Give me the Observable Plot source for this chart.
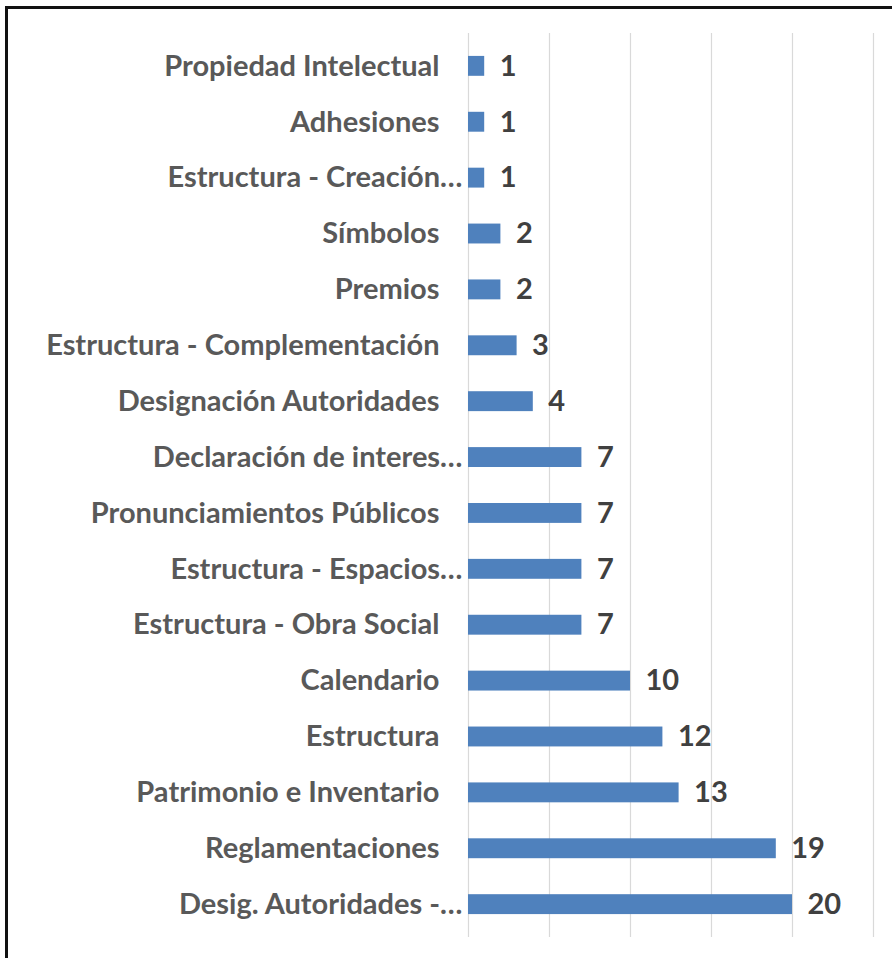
<!DOCTYPE html>
<html>
<head>
<meta charset="utf-8">
<script src="https://cdn.jsdelivr.net/npm/d3@7"></script>
<script src="https://cdn.jsdelivr.net/npm/@observablehq/plot@0.6"></script>
<style>
  html, body { margin: 0; padding: 0; background: #fff; overflow: hidden; }
  #wrap { position: relative; width: 892px; height: 958px; overflow: hidden; }
  #topline { position: absolute; left: 5px; top: 6px; width: 887px; height: 3px; background: #111; }
  #leftline { position: absolute; left: 5px; top: 6px; width: 3px; height: 952px; background: #111; }
  #chart { position: absolute; left: 0; top: 0; }
</style>
</head>
<body>
<div id="wrap">
  <div id="chart"></div>
  <div id="topline"></div>
  <div id="leftline"></div>
</div>
<script>
const categories = [
  "Propiedad Intelectual",
  "Adhesiones",
  "Estructura - Creación…",
  "Símbolos",
  "Premios",
  "Estructura - Complementación",
  "Designación Autoridades",
  "Declaración de interes…",
  "Pronunciamientos Públicos",
  "Estructura - Espacios…",
  "Estructura - Obra Social",
  "Calendario",
  "Estructura",
  "Patrimonio e Inventario",
  "Reglamentaciones",
  "Desig. Autoridades -…"
];
const values = [1, 1, 1, 2, 2, 3, 4, 7, 7, 7, 7, 10, 12, 13, 19, 20];
const xTicks = [0, 5, 10, 15, 20, 25];

const data = categories.map((c, i) => ({category: c, value: values[i]}));
const truncated = d => d.category.endsWith("…");

const labelFont = 29;

const chart = Plot.plot({
  width: 892,
  height: 958,
  marginLeft: 468,
  marginRight: 19,
  marginTop: 33,
  marginBottom: 21,
  style: {fontFamily: "Lato, 'Open Sans', sans-serif", background: "transparent"},
  x: {domain: [0, 25], ticks: xTicks, axis: null},
  y: {domain: categories, paddingInner: 0.644, paddingOuter: 0.41, round: false, axis: null},
  marks: [
    Plot.ruleX(xTicks, {stroke: "#d9d9d9", strokeWidth: 1.2}),
    Plot.barX(data, {y: "category", x: "value", fill: "#4F81BD"}),
    Plot.text(data.filter(truncated), {
      y: "category", x: 0, text: "category", textAnchor: "end", dx: -6,
      fill: "#595959", fontSize: labelFont, fontWeight: "bold"
    }),
    Plot.text(data.filter(d => !truncated(d)), {
      y: "category", x: 0, text: "category", textAnchor: "end", dx: -29,
      fill: "#595959", fontSize: labelFont, fontWeight: "bold"
    }),
    Plot.text(data, {
      y: "category", x: "value", text: d => String(d.value), textAnchor: "start", dx: 15,
      fill: "#404040", fontSize: labelFont, fontWeight: "bold"
    })
  ]
});
document.getElementById("chart").appendChild(chart);
</script>
</body>
</html>
